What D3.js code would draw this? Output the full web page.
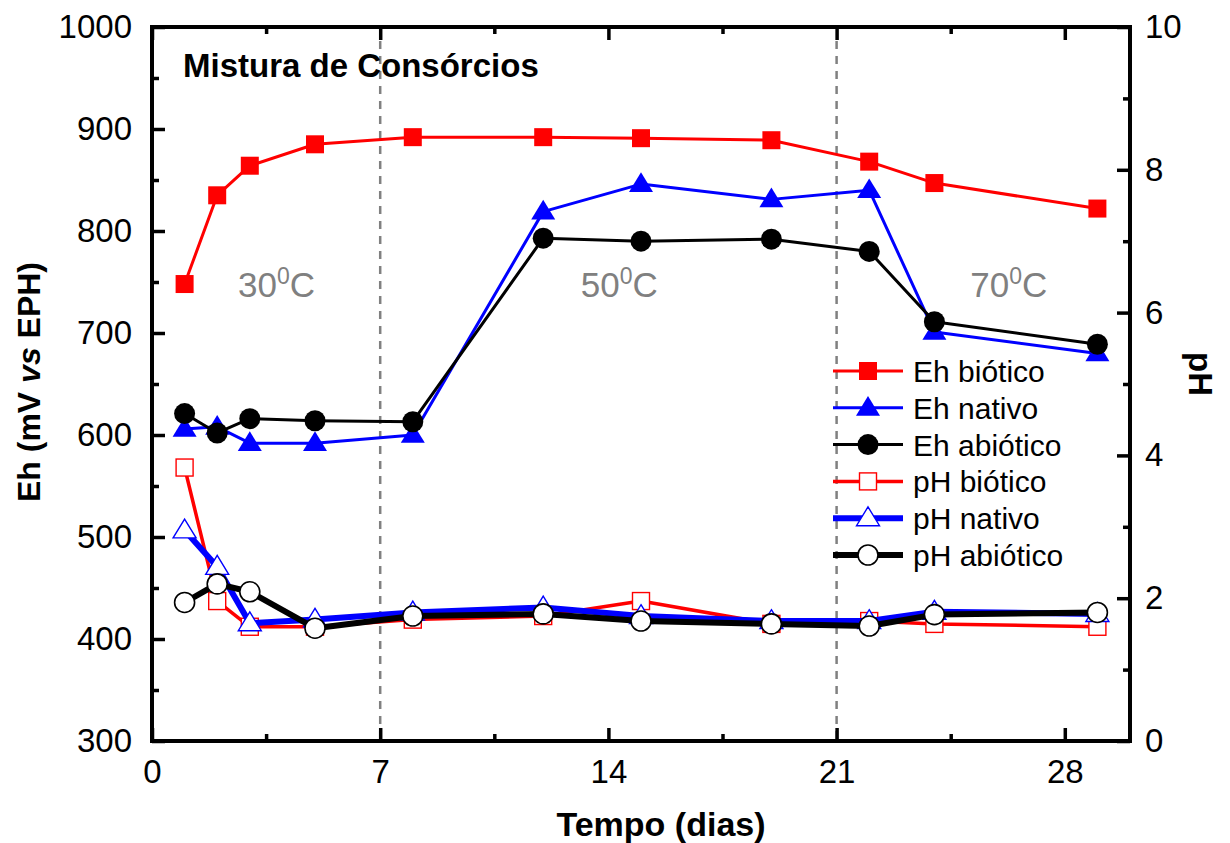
<!DOCTYPE html>
<html>
<head>
<meta charset="utf-8">
<script src="https://cdn.jsdelivr.net/npm/d3@7"></script>
<style>
  html, body { margin: 0; padding: 0; background: #fff; }
  svg { display: block; font-family: "Liberation Sans", Arial, sans-serif; }
</style>
</head>
<body>
<svg id="chart" width="1230" height="843"></svg>
<script>
// Sampling days
const days = [1, 2, 3, 5, 8, 12, 15, 19, 22, 24, 29];

// Redox potential (mV vs EPH)
const ehBiotico  = [748, 835, 864, 885, 892, 892, 891, 889, 868, 847, 822];
const ehNativo   = [606, 608, 592, 592, 600, 819, 846, 831, 840, 701, 680];
const ehAbiotico = [621, 602, 616, 614, 613, 793, 790, 792, 780, 711, 689];

// pH
const phBiotico  = [3.83, 1.96, 1.60, 1.60, 1.70, 1.75, 1.96, 1.64, 1.68, 1.64, 1.60];
const phNativo   = [2.95, 2.44, 1.65, 1.70, 1.80, 1.87, 1.75, 1.68, 1.68, 1.81, 1.78];
const phAbiotico = [1.94, 2.20, 2.09, 1.58, 1.75, 1.78, 1.68, 1.64, 1.61, 1.77, 1.80];

// Axis ticks
const xTicks = [0, 7, 14, 21, 28];
const xMinor = [3.5, 10.5, 17.5, 24.5];
const ehTicks = [300, 400, 500, 600, 700, 800, 900, 1000];
const ehMinor = [350, 450, 550, 650, 750, 850, 950];
const phTicks = [0, 2, 4, 6, 8, 10];
const phMinor = [1, 3, 5, 7, 9];

// Temperature phases
const phaseBounds = [7, 21];
const phaseLabels = [{t: "30", x: 2.64}, {t: "50", x: 13.15}, {t: "70", x: 25.1}];

const svg = d3.select("#chart");
const L = 152, R = 1130, T = 27, B = 741;

const x = d3.scaleLinear().domain([0, 30]).range([L, R]);
const yL = d3.scaleLinear().domain([300, 1000]).range([B, T]);
const yR = d3.scaleLinear().domain([0, 10]).range([B, T]);

// dashed phase separators
svg.selectAll("line.phase").data(phaseBounds).join("line")
  .attr("x1", d => x(d)).attr("x2", d => x(d))
  .attr("y1", T + 14).attr("y2", B)
  .attr("stroke", "#808080").attr("stroke-width", 2.5)
  .attr("stroke-dasharray", "8,7");

// temperature labels
phaseLabels.forEach(p => {
  const t = svg.append("text")
    .attr("x", x(p.x)).attr("y", 297)
    .attr("font-size", 35).attr("fill", "#808080");
  t.append("tspan").text(p.t);
  t.append("tspan").attr("font-size", 23).attr("dy", -13).text("0");
  t.append("tspan").attr("dy", 13).text("C");
});

// title
svg.append("text").attr("x", 183).attr("y", 77)
  .attr("font-size", 33).attr("font-weight", "bold").text("Mistura de Consórcios");

// series definitions
const series = [
  {name: "Eh biótico",  vals: ehBiotico,  scale: yL, color: "#ff0000", lw: 3,   sym: "square",   fill: true,  size: 18},
  {name: "Eh nativo",   vals: ehNativo,   scale: yL, color: "#0000ff", lw: 3,   sym: "triangle", fill: true,  size: 24},
  {name: "Eh abiótico", vals: ehAbiotico, scale: yL, color: "#000000", lw: 3,   sym: "circle",   fill: true,  size: 21},
  {name: "pH biótico",  vals: phBiotico,  scale: yR, color: "#ff0000", lw: 3.5, sym: "square",   fill: false, size: 17},
  {name: "pH nativo",   vals: phNativo,   scale: yR, color: "#0000ff", lw: 6,   sym: "triangle", fill: false, size: 23},
  {name: "pH abiótico", vals: phAbiotico, scale: yR, color: "#000000", lw: 6,   sym: "circle",   fill: false, size: 20}
];

function marker(g, s, cx, cy) {
  const fill = s.fill ? s.color : "#fff";
  const sw = s.fill ? 0 : (s.sym === "circle" ? 1.6 : 1.4);
  const h = s.size / 2;
  if (s.sym === "square") {
    g.append("rect").attr("x", cx - h).attr("y", cy - h)
      .attr("width", s.size).attr("height", s.size)
      .attr("fill", fill).attr("stroke", s.color).attr("stroke-width", sw);
  } else if (s.sym === "triangle") {
    const ht = s.size * 0.82;
    const pts = [[cx, cy - ht * 0.6], [cx + h, cy + ht * 0.4], [cx - h, cy + ht * 0.4]];
    g.append("polygon").attr("points", pts.map(p => p.join(",")).join(" "))
      .attr("fill", fill).attr("stroke", s.color).attr("stroke-width", sw);
  } else {
    g.append("circle").attr("cx", cx).attr("cy", cy).attr("r", h)
      .attr("fill", fill).attr("stroke", s.color).attr("stroke-width", sw);
  }
}

series.forEach(s => {
  const g = svg.append("g");
  const line = d3.line().x((d, i) => x(days[i])).y(d => s.scale(d));
  g.append("path").datum(s.vals).attr("d", line)
    .attr("fill", "none").attr("stroke", s.color).attr("stroke-width", s.lw)
    .attr("stroke-linejoin", "round");
  s.vals.forEach((v, i) => marker(g, s, x(days[i]), s.scale(v)));
});

// frame
svg.append("rect").attr("x", L).attr("y", T).attr("width", R - L).attr("height", B - T)
  .attr("fill", "none").attr("stroke", "#000").attr("stroke-width", 4);

// axes with inward ticks
function styleAxis(g) {
  g.select(".domain").remove();
  g.selectAll(".tick line").attr("stroke", "#000").attr("stroke-width", 3.5);
  g.selectAll(".tick text").attr("font-size", 33).attr("fill", "#000")
    .attr("font-family", "Liberation Sans, Arial, sans-serif");
}
// bottom
svg.append("g").attr("transform", `translate(0,${B})`)
  .call(d3.axisBottom(x).tickValues(xTicks).tickSize(-13).tickPadding(19))
  .call(styleAxis);
svg.append("g").attr("transform", `translate(0,${B})`)
  .call(d3.axisBottom(x).tickValues(xMinor).tickSize(-7).tickFormat(""))
  .call(styleAxis);
// top
svg.append("g").attr("transform", `translate(0,${T})`)
  .call(d3.axisTop(x).tickValues(xTicks).tickSize(-13).tickFormat(""))
  .call(styleAxis);
svg.append("g").attr("transform", `translate(0,${T})`)
  .call(d3.axisTop(x).tickValues(xMinor).tickSize(-7).tickFormat(""))
  .call(styleAxis);
// left
svg.append("g").attr("transform", `translate(${L},0)`)
  .call(d3.axisLeft(yL).tickValues(ehTicks).tickSize(-13).tickPadding(20).tickFormat(d3.format("d")))
  .call(styleAxis);
svg.append("g").attr("transform", `translate(${L},0)`)
  .call(d3.axisLeft(yL).tickValues(ehMinor).tickSize(-7).tickFormat(""))
  .call(styleAxis);
// right
svg.append("g").attr("transform", `translate(${R},0)`)
  .call(d3.axisRight(yR).tickValues(phTicks).tickSize(-13).tickPadding(15).tickFormat(d3.format("d")))
  .call(styleAxis);
svg.append("g").attr("transform", `translate(${R},0)`)
  .call(d3.axisRight(yR).tickValues(phMinor).tickSize(-7).tickFormat(""))
  .call(styleAxis);

// axis titles
svg.append("text").attr("x", 661).attr("y", 836).attr("text-anchor", "middle")
  .attr("font-size", 34).attr("font-weight", "bold").text("Tempo (dias)");

const yt = svg.append("text").attr("transform", "translate(40,382) rotate(-90)")
  .attr("text-anchor", "middle").attr("font-size", 32).attr("font-weight", "bold");
yt.append("tspan").text("Eh (mV ");
yt.append("tspan").attr("font-style", "italic").text("vs");
yt.append("tspan").text(" EPH)");

svg.append("text").attr("transform", "translate(1189,374) rotate(90)")
  .attr("text-anchor", "middle").attr("font-size", 33).attr("font-weight", "bold").text("pH");

// legend
const lg = svg.append("g");
series.forEach((s, i) => {
  const cy = 371 + i * 36.8;
  lg.append("line").attr("x1", 833).attr("x2", 903).attr("y1", cy).attr("y2", cy)
    .attr("stroke", s.color).attr("stroke-width", s.lw);
  marker(lg, s, 868, cy);
  lg.append("text").attr("x", 913).attr("y", cy + 11).attr("font-size", 30).text(s.name);
});
</script>
</body>
</html>
